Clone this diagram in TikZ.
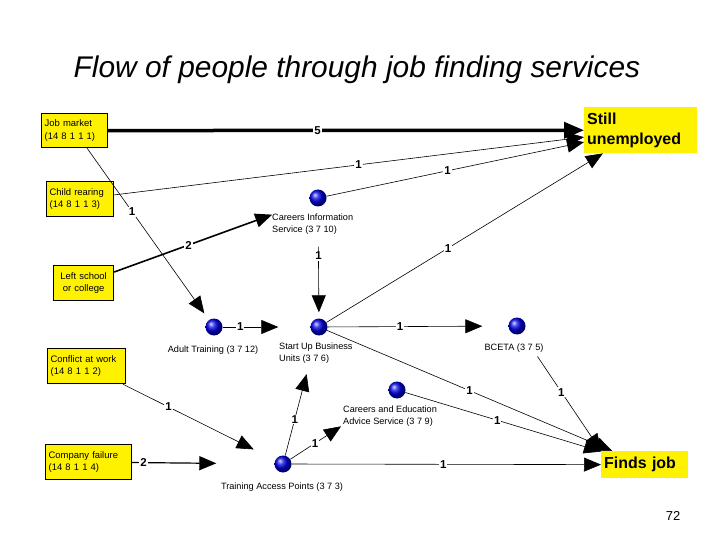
\documentclass[tikz,border=0pt]{standalone}
\usepackage{fontspec}
\setmainfont{Liberation Sans}
\usetikzlibrary{arrows.meta,shadings}
\begin{document}
\begin{tikzpicture}[x=1bp,y=-1bp,
  box/.style={draw,line width=1.2bp,fill=yellow,font=\fontsize{9.5}{12.5}\selectfont,align=left,inner sep=3bp,anchor=north west},
  outbox/.style={fill=yellow,font=\bfseries\fontsize{16}{20}\selectfont,align=left,inner xsep=3bp,inner ysep=2bp,anchor=north west},
  ball/.style={circle,minimum size=17bp,inner sep=0,ball color=blue!90!black},
  bl/.style={font=\fontsize{9.2}{12}\selectfont,align=left,inner sep=0},
  e/.style={-{Triangle[length=17bp,width=14bp]},line width=0.6bp},
  lab/.style={fill=white,inner sep=1bp,font=\bfseries\fontsize{11.5}{11.5}\selectfont}]
\useasboundingbox (0,0) rectangle (720,540);
\node[font=\itshape\fontsize{30}{34}\selectfont] (title) at (357,70) {Flow of people through job finding services};
\node[font=\fontsize{13}{15}\selectfont] (pg) at (673,516) {72};
\node[box,text width=60bp,minimum height=34bp] (jm) at (41,113) {Job market\\ (14 8 1 1 1)};
\node[box,text width=61bp,minimum height=35bp] (cr) at (46,181) {Child rearing\\ (14 8 1 1 3)};
\node[box,text width=54bp,minimum height=35bp,align=center] (ls) at (53,265) {Left school\\ or college};
\node[box,text width=72bp,minimum height=35bp] (cw) at (47,348) {Conflict at work\\ (14 8 1 1 2)};
\node[box,text width=80bp,minimum height=35bp] (cf) at (45,444) {Company failure\\ (14 8 1 1 4)};
\node[outbox,text width=107bp,minimum height=46bp] (su) at (584,107) {Still\\unemployed};
\node[outbox,text width=81bp,minimum height=27bp] (fj) at (601,451) {Finds job};
\node[ball] (cis) at (318,198) {};
\node[ball] (at) at (214,327) {};
\node[ball] (sub) at (319,327) {};
\node[ball] (bc) at (517,326) {};
\node[ball] (ceas) at (397,390) {};
\node[ball] (tap) at (283,464) {};
\node[bl,anchor=north west] (lcis) at (272,214) {Careers Information\\Service (3 7 10)};
\node[bl] (lat) at (213,350) {Adult Training (3 7 12)};
\node[bl,anchor=north west] (lsub) at (279,343) {Start Up Business\\Units (3 7 6)};
\node[bl] (lbc) at (514,348) {BCETA (3 7 5)};
\node[bl,anchor=north west] (lceas) at (343,406) {Careers and Education\\Advice Service (3 7 9)};
\node[bl] (ltap) at (282,487) {Training Access Points (3 7 3)};
\draw[e,line width=3.5bp,-{Triangle[length=20bp,width=16bp]}] (jm) -- node[lab,pos=0.44]{5} (su);
\draw[e,shorten >=8bp] (jm) -- node[lab,pos=0.37]{1} (at);
\draw[e] (cr) -- node[lab,pos=0.52]{1} (su);
\draw[e] (cis) -- node[lab,pos=0.47]{1} (su);
\draw[e,line width=1.6bp,shorten >=40bp] (ls) -- node[lab,pos=0.38]{2} (cis);
\draw[e,shorten <=40bp,shorten >=6bp] (cis) -- node[lab,pos=0.44]{1} (sub);
\draw[e,shorten >=32bp] (at) -- node[lab,pos=0.2]{1} (sub);
\draw[e] (sub) -- node[lab,pos=0.44]{1} (su);
\draw[e,shorten >=26bp] (sub) -- node[lab,pos=0.4]{1} (bc);
\draw[e] (sub) -- node[lab,pos=0.5]{1} (fj);
\draw[e,shorten <=28bp] (bc) -- node[lab,pos=0.5]{1} (fj.north west);
\draw[e] (ceas) -- node[lab,pos=0.47]{1} (fj);
\draw[e] (tap) -- node[lab,pos=0.49]{1} (fj);
\draw[e,shorten >=40bp] (tap) -- node[lab,pos=0.3]{1} (sub);
\draw[e,shorten >=58bp] (tap) -- node[lab,pos=0.25]{1} (ceas);
\draw[e,shorten >=24bp] (cw) -- node[lab,pos=0.3]{1} (tap);
\draw[e,line width=1.2bp,shorten >=58bp] (cf) -- node[lab,pos=0.08]{2} (tap);
\end{tikzpicture}
\end{document}
